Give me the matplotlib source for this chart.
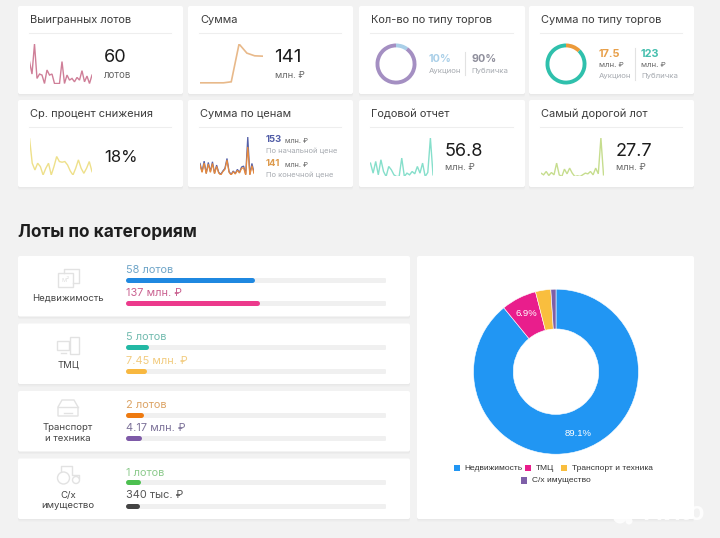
import matplotlib
matplotlib.use("Agg")
import matplotlib.pyplot as plt
from matplotlib.patches import FancyBboxPatch, Rectangle, Circle, Polygon

plt.rcParams['font.family'] = ['Inter', 'DejaVu Sans']

W, H = 720, 538

# ---------- data ----------
card_titles = ["Выигранных лотов", "Сумма", "Кол-во по типу торгов", "Сумма по типу торгов",
               "Ср. процент снижения", "Сумма по ценам", "Годовой отчет", "Самый дорогой лот"]
won_lots = [65,28,117,15,28,25,0,40,25,28,0,0,0,65,0,25,10,15,5,18,10,38,5,22,0,25]
total_sum = [2,2,2,2,5,117,90,82,81]
avg_drop = [110,35,15,35,25,0,20,35,0,25,55,40,38,40,30,12,0,20,45,20,5,20,40,10]
price_start = [35,10,42,5,38,10,40,5,30,8,2,12,20,50,10,2,12,5,17,8,24,27,2,115,2,35,8]
price_final = [30,8,36,4,33,8,35,4,26,6,0,10,17,45,8,0,10,3,14,6,20,22,0,85,0,28,5]
year_report = [40,10,45,5,50,15,0,30,20,5,0,0,55,0,10,5,15,8,30,10,40,0,12,115,5]
top_lot = [10,5,15,3,12,5,40,5,0,22,8,25,10,0,2,0,5,10,8,15,5,25,8,115,5]
count_share = [10, 90]
sum_share = [17.5, 123]

cat_names = ["Недвижимость", "ТМЦ", "Транспорт\nи техника", "С/х\nимущество"]
lots_labels = ["58 лотов", "5 лотов", "2 лотов", "1 лотов"]
sum_labels = ["137 млн. ₽", "7.45 млн. ₽", "4.17 млн. ₽", "340 тыс. ₽"]
lots_fill = [49, 8.5, 6.5, 5.5]
sum_fill = [51, 7.8, 5.6, 4.8]

pie_names = ["Недвижимость", "ТМЦ", "Транспорт и техника", "С/х имущество"]
pie_values = [89.1, 6.9, 3.0, 1.0]
pie_colors = ["#2196F3", "#E91E8C", "#F9BE3E", "#7E5FA8"]

BG = "#f2f2f2"
DARK = "#222222"
MID = "#666666"
GREY = "#a6aab0"

fig = plt.figure(figsize=(W/100, H/100), dpi=100, facecolor=BG)


def rect_ax(x0, y0, x1, y1, **kw):
    a = fig.add_axes([x0/W, 1-y1/H, (x1-x0)/W, (y1-y0)/H], **kw)
    a.patch.set_alpha(0)
    a.axis("off")
    return a


ov = rect_ax(0, 0, W, H)
ov.set_xlim(0, W)
ov.set_ylim(H, 0)


def card(x0, y0, x1, y1):
    for off, col in [(2.5, "#ededed"), (1.2, "#e8e8e8")]:
        ov.add_patch(FancyBboxPatch((x0, y0+off), x1-x0, y1-y0,
                                    boxstyle="round,pad=0,rounding_size=2", fc=col, ec="none", zorder=1))
    ov.add_patch(FancyBboxPatch((x0, y0), x1-x0, y1-y0,
                                boxstyle="round,pad=0,rounding_size=2", fc="white", ec="none", zorder=2))


def txt(x, y, s, size=8, color=DARK, weight="normal", ha="left", **kw):
    ov.text(x, y, s, fontsize=size, color=color, fontweight=weight, ha=ha, va="center", zorder=5, **kw)


def spark(box, series, color, top=None, lw=1.0):
    a = rect_ax(*box)
    for s, c in zip(series, color):
        a.plot(range(len(s)), s, color=c, lw=lw, solid_joinstyle="miter")
    a.set_xlim(0, max(len(s) for s in series)-1)
    a.set_ylim(0, top or max(max(s) for s in series))
    return a


def ring(cx, cy, r, values, colors):
    a = rect_ax(cx-r, cy-r, cx+r, cy+r)
    a.pie(values, colors=colors, startangle=90, counterclock=False, radius=1,
          wedgeprops=dict(width=0.19, linewidth=0))
    a.set_xlim(-1, 1)
    a.set_ylim(-1, 1)


# ---------- top cards ----------
cols = [(18, 183), (188, 353), (359, 525), (529, 694)]
rows = [(6, 94), (100, 187)]
i = 0
for (y0, y1) in rows:
    for (x0, x1) in cols:
        card(x0, y0, x1, y1)
        txt(x0+12, y0+14, card_titles[i], size=7.95, color="#3c3c3c")
        ov.plot([x0+11, x1-12], [y0+27, y0+27], color="#eeeeee", lw=0.8, zorder=3)
        i += 1

BIG = 13
spark((29.5, 44, 92, 83.5), [won_lots], ["#cf7f98"])
txt(104, 58, "60", size=BIG, color="#1c1c1c")
txt(104, 75, "лотов", size=7, color=MID)

spark((200, 44, 262.5, 83.5), [total_sum], ["#e8b98a"], lw=1.2)
txt(274.5, 58, "141", size=BIG+0.5, color="#1c1c1c")
txt(275, 75, "млн. ₽", size=6.7, color=MID)

ring(396, 64, 20.5, count_share, ["#a9cfe8", "#a48fc2"])
txt(429, 59, f"{count_share[0]}%", size=7.8, color="#a9cfe8", weight="bold")
txt(429, 71, "Аукцион", size=5.6, color=GREY)
ov.plot([465, 465], [52, 75], color="#e2e2e2", lw=0.8, zorder=3)
txt(471, 59, f"{count_share[1]}%", size=7.8, color="#8f8f9c", weight="bold")
txt(471, 71, "Публичка", size=5.6, color=GREY)

ring(566, 64, 20.5, sum_share, ["#ec9a3a", "#2fc0ac"])
txt(599, 54, "17.5", size=7.8, color="#e8a04a", weight="bold")
txt(599, 65, "млн. ₽", size=5.6, color=MID)
txt(599, 76, "Аукцион", size=5.6, color=GREY)
ov.plot([635, 635], [48, 80], color="#e2e2e2", lw=0.8, zorder=3)
txt(641, 54, "123", size=7.8, color="#46bfae", weight="bold")
txt(641, 65, "млн. ₽", size=5.6, color=MID)
txt(641, 76, "Публичка", size=5.6, color=GREY)

spark((29.5, 138, 92, 175), [avg_drop], ["#eee08a"])
txt(104.5, 157, "18%", size=12, color="#1c1c1c")

spark((200, 137, 254, 175), [price_start, price_final], ["#5560a8", "#e88a3c"], lw=0.9)
txt(266, 140, "153", size=6.8, color="#4f5ba6", weight="bold")
txt(285, 141, "млн. ₽", size=5.2, color=MID)
txt(266, 151, "По начальной цене", size=5.4, color=GREY)
txt(266, 164, "141", size=6.8, color="#dd9a4c", weight="bold")
txt(285, 165, "млн. ₽", size=5.2, color=MID)
txt(266, 175, "По конечной цене", size=5.4, color=GREY)

spark((370.5, 138, 433, 176.5), [year_report], ["#86dfcb"])
txt(445, 152, "56.8", size=BIG, color="#1c1c1c")
txt(445, 168, "млн. ₽", size=6.7, color=MID)

spark((541, 138, 603.5, 176.5), [top_lot], ["#c6dd8e"])
txt(616, 152, "27.7", size=BIG, color="#1c1c1c")
txt(616, 168, "млн. ₽", size=6.7, color=MID)

# ---------- heading ----------
txt(18, 232, "Лоты по категориям", size=12.4, color="#1e1e1e", weight="bold")

# ---------- category panels ----------
panel_tops = [256, 323.5, 391, 458.5]
lots_colors = ["#1F88E0", "#22B8A4", "#EE7A10", "#4CC050"]
sum_colors = ["#EC3A8C", "#F8B840", "#7E5AA8", "#444444"]
lots_text = ["#6fa5c8", "#74bcb0", "#dca466", "#8ecb8e"]
sum_text = ["#c9608f", "#f2cc80", "#7c7299", "#555555"]
ICON = "#e2e2e2"

for k, top in enumerate(panel_tops):
    card(18, top, 410, top+60.5)
    txt(68, top+42, cat_names[k], size=6.9, color="#444444", ha="center", linespacing=1.25)
    txt(126, top+14, lots_labels[k], size=7.9, color=lots_text[k])
    txt(126, top+37, sum_labels[k], size=7.9, color=sum_text[k])
    a = rect_ax(126, top+17, 386, top+53)
    a.set_xlim(0, 100)
    a.set_ylim(36, 0)
    for yy, frac, col in [(6.5, lots_fill[k], lots_colors[k]), (30.2, sum_fill[k], sum_colors[k])]:
        a.plot([0.7, 99.3], [yy, yy], color="#f0f0f0", lw=3.6, solid_capstyle="round")
        a.plot([0.7, frac-0.7], [yy, yy], color=col, lw=3.6, solid_capstyle="round")

ik = dict(fc="none", ec=ICON, lw=1.0, zorder=4)
# square-metre icon
ov.add_patch(Rectangle((58, 273), 15, 14, **ik))
ov.plot([64, 64, 79, 79, 73], [273, 269, 269, 283, 283], color=ICON, lw=1.0, zorder=4)
ov.text(65.5, 280, "м²", fontsize=5, color=ICON, ha="center", va="center", zorder=5)
# monitor and tower
ov.add_patch(Rectangle((57, 341), 12, 9, **ik))
ov.add_patch(Rectangle((70, 337), 9, 17, **ik))
ov.plot([61, 66], [353, 353], color=ICON, lw=1.0, zorder=4)
# car
ov.add_patch(Polygon([[58, 407], [62, 400], [74, 400], [78, 407], [78, 416], [58, 416]], closed=True, **ik))
ov.plot([58, 78], [407, 407], color=ICON, lw=1.0, zorder=4)
ov.plot([64, 72], [413, 413], color=ICON, lw=1.0, zorder=4)
# tractor
ov.add_patch(Circle((63.5, 478), 6, **ik))
ov.add_patch(Circle((76, 480), 3.5, **ik))
ov.plot([61, 61, 72, 72, 79, 79], [471, 466, 466, 475, 475, 478], color=ICON, lw=1.0, zorder=4)

# ---------- donut panel ----------
card(417, 256, 694, 519)
pie_cx, pie_cy, pie_r = 556, 371.7, 82.5
pa = rect_ax(pie_cx-pie_r, pie_cy-pie_r, pie_cx+pie_r, pie_cy+pie_r)
pa.pie(pie_values, colors=pie_colors, startangle=90, counterclock=False, radius=1,
       wedgeprops=dict(width=0.482, edgecolor="white", linewidth=0.4))
pa.set_xlim(-1, 1)
pa.set_ylim(-1, 1)

# top layer above the donut axes
top_ax = rect_ax(0, 0, W, H)
top_ax.set_xlim(0, W)
top_ax.set_ylim(H, 0)

LEG = ["Liberation Sans", "DejaVu Sans"]
top_ax.text(578, 434, f"{pie_values[0]}%", fontsize=6.8, color="white", ha="center", va="center", family=LEG)
top_ax.text(526, 313, f"{pie_values[1]}%", fontsize=6.8, color="white", ha="center", va="center", family=LEG)

leg_pos = [(456.7, 468), (528, 468), (564, 468), (524, 480.5)]
for (lx, ly), name, col in zip(leg_pos, pie_names, pie_colors):
    ov.add_patch(Rectangle((lx-3.2, ly-3.2), 6.4, 6.4, fc=col, ec="none", zorder=5))
    ov.text(lx+8, ly, name, fontsize=6.0, color="#333333", ha="left", va="center", zorder=5, family=LEG)

# ---------- watermark ----------
for cx, cy, r in [(620, 516.5, 7), (632, 507, 5.5), (640, 515, 3.5), (629, 521, 3.5)]:
    top_ax.add_patch(Circle((cx, cy), r, fc="white", ec="none", alpha=0.85))
top_ax.text(643, 513, "Avito", fontsize=18, color="white", alpha=0.85, ha="left", va="center",
            fontweight="bold", family=LEG)

fig.savefig("out.png", dpi=100, facecolor=BG)
